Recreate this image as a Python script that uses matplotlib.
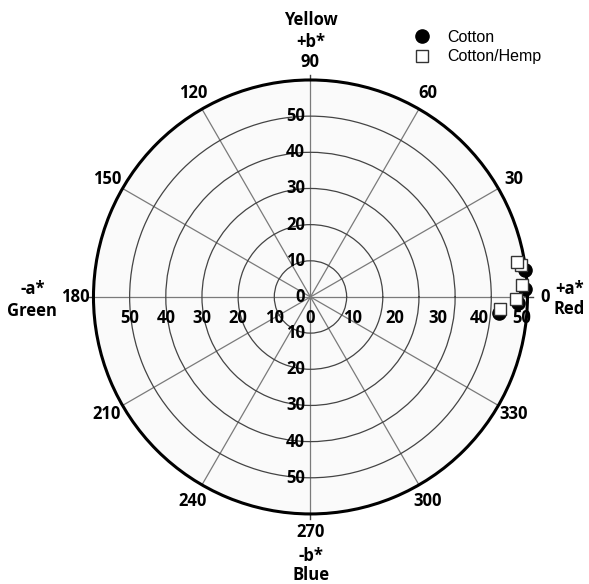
import numpy as np
import matplotlib.pyplot as plt

# CIELAB a*, b* coordinates
cotton_a = [59.2, 59.3, 57.4, 52.1]
cotton_b = [7.5, 2.2, -1.7, -4.4]
hemp_a = [58.1, 57.2, 58.6, 56.8, 52.4]
hemp_b = [8.8, 9.8, 3.4, -0.5, -3.3]

rings = [10, 20, 30, 40, 50]
angles = list(range(0, 360, 30))

W, H = 589, 584
fig = plt.figure(figsize=(W / 100, H / 100), dpi=100)
ax = fig.add_axes([0.1587, 0.1199, 0.7368, 0.7432], projection='polar')

bold = dict(family='Open Sans', fontweight='bold', fontsize=12, color='black')

def to_polar(a, b):
    a = np.array(a)
    b = np.array(b)
    return np.arctan2(b, a), np.hypot(a, b)

ax.set_facecolor('#fafafa')
ax.set_ylim(0, 60)
ax.set_yticks(rings)
ax.set_yticklabels([])
ax.set_xticks(np.radians(angles))
ax.set_xticklabels([])
ax.xaxis.grid(True, color='#7a7a7a', lw=0.9)
ax.yaxis.grid(True, color='#444444', lw=0.9)
ax.spines['polar'].set_linewidth(2.2)
ax.spines['polar'].set_color('black')

# small ticks beyond the outer ring on the main axes
for t in [0, 90, 180, 270]:
    ax.plot([np.radians(t)] * 2, [60, 61.5], color='#444444', lw=1, clip_on=False)

# data
th, r = to_polar(cotton_a, cotton_b)
ax.plot(th, r, 'o', color='black', ms=9.5, ls='none', label='Cotton', clip_on=False, zorder=5)
th, r = to_polar(hemp_a, hemp_b)
ax.plot(th, r, 's', mfc='white', mec='#333333', mew=1, ms=8.5, ls='none',
        label='Cotton/Hemp', clip_on=False, zorder=6)

# radial labels
for v in [0] + rings:
    ax.annotate(str(v), xy=(np.pi / 2, v), xytext=(-4, 0), textcoords='offset points',
                ha='right', va='center', **bold)
for v in rings:
    ax.annotate(str(v), xy=(3 * np.pi / 2, v), xytext=(-4, 0), textcoords='offset points',
                ha='right', va='center', **bold)
for v in [0] + rings:
    ax.annotate(str(v), xy=(np.pi, v), xytext=(0, -15), textcoords='offset points',
                ha='center', va='center', **bold)
for v in rings:
    ax.annotate(str(v), xy=(0, v * 1.17), xytext=(0, -15), textcoords='offset points',
                ha='center', va='center', **bold)

# angle labels
for t in angles:
    ax.text(np.radians(t), 65, str(t), ha='center', va='center', **bold)

def px(x, y):
    return x / W, 1 - y / H

for s, (x, y) in [('Yellow', (311, 20)), ('+b*', (311, 42)), ('-b*', (311, 556)),
                  ('Blue', (311, 575)), ('+a*', (570, 289)), ('Red', (569, 309)),
                  ('-a*', (33, 289)), ('Green', (32, 311))]:
    fig.text(*px(x, y), s, ha='center', va='center', **bold)

leg = fig.legend(loc='center left', bbox_to_anchor=px(404, 47), frameon=False,
                 prop=dict(family='Liberation Sans', size=11.5),
                 handlelength=1.2, handletextpad=1.0, labelspacing=0.3, borderpad=0)

fig.savefig('out.png', dpi=100)
